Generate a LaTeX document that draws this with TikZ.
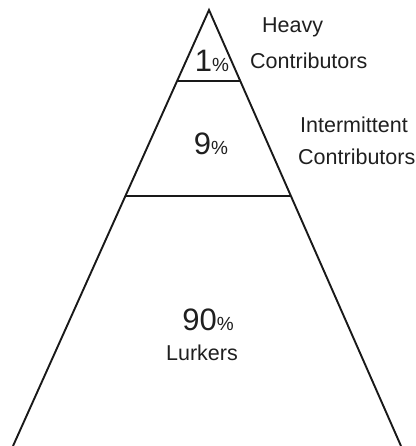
\documentclass[tikz,border=0pt]{standalone}
\usepackage{fontspec}
\setmainfont{Liberation Sans}
\usepackage{tikz}
\usetikzlibrary{positioning}
\newcommand{\bignum}[1]{{\fontsize{31}{33}\selectfont #1}{\fontsize{19}{21}\selectfont\%}}
\tikzset{
  level/.style={draw=black!90, line width=1.9pt},
  pct/.style={inner sep=0pt, anchor=base, text=black!88},
  lbl/.style={inner sep=0pt, anchor=base west, text=black!88, font=\fontsize{21.5}{25}\selectfont}
}
\begin{document}
\begin{tikzpicture}[x=1pt, y=-1pt]
    \useasboundingbox (0,0) rectangle (415,446);
    % corners
    \coordinate (Apex)   at (209,10);
    \coordinate (BaseL)  at (13,446);
    \coordinate (BaseR)  at (401,446);
    \coordinate (TopL)   at (177,81);
    \coordinate (TopR)   at (240,81);
    \coordinate (MidL)   at (126,196);
    \coordinate (MidR)   at (291,196);
    % pyramid
    \draw [level] (BaseL) -- (Apex) -- (BaseR);
    \draw [level] (TopL) -- (TopR);
    \draw [level] (MidL) -- (MidR);
    % percentages
    \node (Heavy)  [pct] at (212,72)  {\bignum{1}};
    \node (Inter)  [pct] at (211,155) {\bignum{9}};
    \node (Lurk)   [pct] at (208,330) {\bignum{90}};
    % labels
    \node (HeavyA) [lbl] at (262,33)  {Heavy};
    \node (HeavyB) [lbl] at (250,69)  {Contributors};
    \node (InterA) [lbl] at (300,133) {Intermittent};
    \node (InterB) [lbl] at (298,165) {Contributors};
    \node (LurkA)  [lbl, anchor=base] at (202,360) {Lurkers};
\end{tikzpicture}
\end{document}
